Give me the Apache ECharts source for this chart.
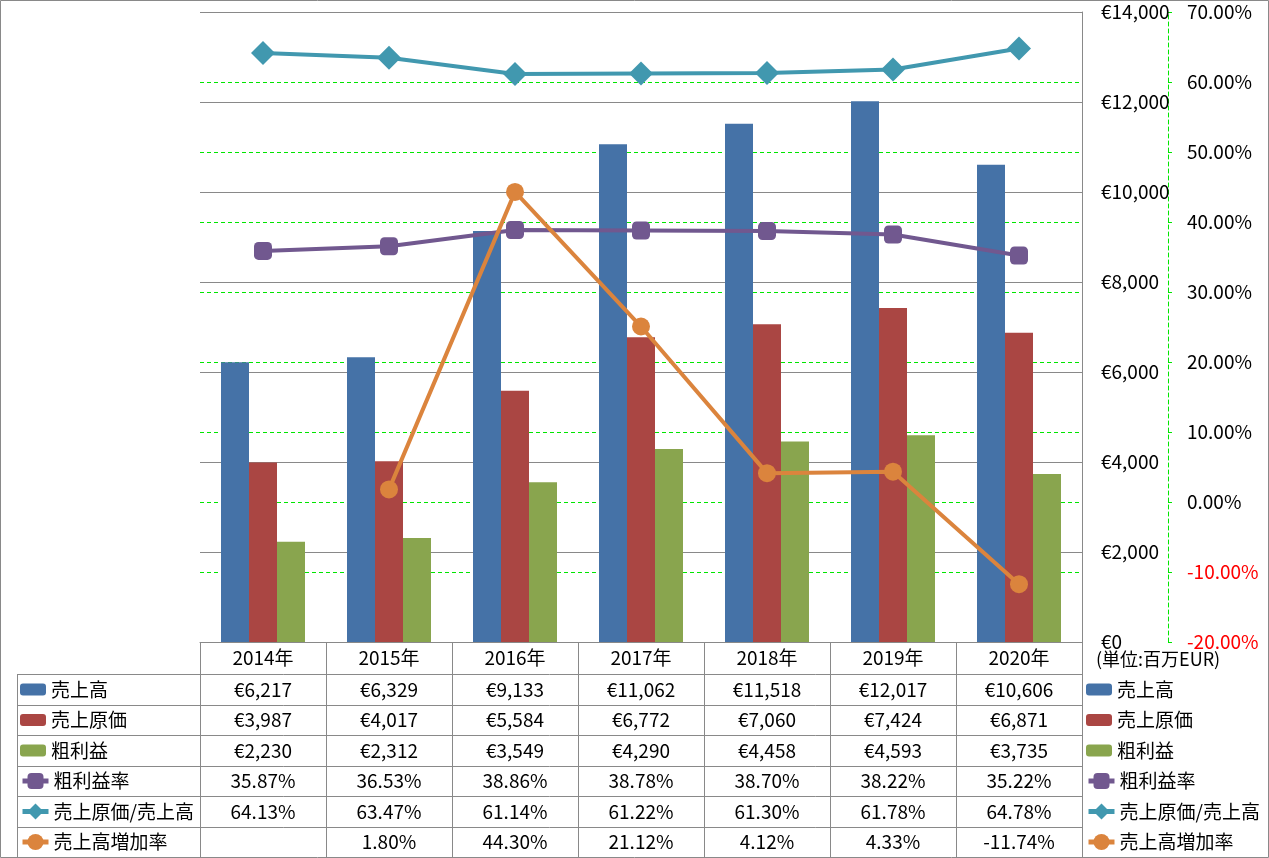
<!DOCTYPE html>
<html>
<head>
<meta charset="utf-8">
<script src="https://cdn.jsdelivr.net/npm/echarts@6/dist/echarts.min.js"></script>
<style>html,body{margin:0;padding:0;background:#fff}#c{width:1269px;height:858px}</style>
</head>
<body>
<div id="c"></div>
<script>
var years = ['2014年','2015年','2016年','2017年','2018年','2019年','2020年'];
var sales = [6217, 6329, 9133, 11062, 11518, 12017, 10606];
var cogs = [3987, 4017, 5584, 6772, 7060, 7424, 6871];
var gross = [2230, 2312, 3549, 4290, 4458, 4593, 3735];
var grossMargin = [35.87, 36.53, 38.86, 38.78, 38.70, 38.22, 35.22];
var cogsRatio = [64.13, 63.47, 61.14, 61.22, 61.30, 61.78, 64.78];
// growth rate as printed in the data table
var growthTable = [null, 1.80, 44.30, 21.12, 4.12, 4.33, -11.74];
// growth rate as plotted in the picture (2017 marker sits near 25%)
var growthPlot = [null, 1.80, 44.30, 25.07, 4.12, 4.33, -11.74];

var names = ['売上高','売上原価','粗利益','粗利益率','売上原価/売上高','売上高増加率'];
var colors = ['#4572A7','#AA4643','#89A54E','#71588F','#4198AF','#DB843D'];

var FONT = 'Noto Sans CJK JP';
var GRAY = '#898989';
var GREEN = '#00e600';

function eur(v){ return '€' + v.toLocaleString('en-US'); }
function pct(v){ return v == null ? '' : v.toFixed(2) + '%'; }

var rowCenters = [689.5, 720, 750.5, 781, 811.5, 842];
var rowData = [sales.map(eur), cogs.map(eur), gross.map(eur), grossMargin.map(pct), cogsRatio.map(pct), growthTable.map(pct)];
var axisBottom = 642;

var xAxes = [{
  type: 'category', data: years, gridIndex: 0, position: 'bottom',
  axisLine: {show: true, lineStyle: {color: GRAY, width: 1}},
  axisTick: {show: true, interval: 0, length: 216, lineStyle: {color: GRAY, width: 1}},
  axisLabel: {interval: 0, margin: 16, verticalAlign: 'middle', color: '#000', fontSize: 19, fontFamily: FONT},
  splitLine: {show: false}
}];
rowData.forEach(function(d, i){
  xAxes.push({
    type: 'category', data: d, gridIndex: 0, position: 'bottom',
    offset: rowCenters[i] - axisBottom,
    axisLine: {show: false}, axisTick: {show: false}, splitLine: {show: false},
    axisLabel: {interval: 0, margin: 0, verticalAlign: 'middle', color: '#000', fontSize: 19, fontFamily: FONT}
  });
});

var series = [];
[sales, cogs, gross].forEach(function(d, i){
  series.push({name: names[i], type: 'bar', data: d, xAxisIndex: 0, yAxisIndex: 0,
    barWidth: 28, barGap: '0%', itemStyle: {color: colors[i]}});
});
var lineDefs = [
  {d: grossMargin, sym: 'roundRect', size: 18},
  {d: cogsRatio, sym: 'diamond', size: 24},
  {d: growthPlot, sym: 'circle', size: 18}
];
lineDefs.forEach(function(l, k){
  var i = k + 3;
  series.push({name: names[i], type: 'line', data: l.d, xAxisIndex: 0, yAxisIndex: 1,
    symbol: l.sym, symbolSize: l.size, showAllSymbol: true,
    lineStyle: {color: colors[i], width: 4}, itemStyle: {color: colors[i]}, z: 3 + k});
});

function legend(left, top, data, ih, isLine){
  var items = data.map(function(n){
    var o = {name: n};
    if (isLine) { o.lineStyle = {width: 5}; }
    return o;
  });
  return {
    orient: 'vertical', left: left, top: top, padding: 0, itemGap: 0.5,
    itemWidth: 26, itemHeight: ih, selectedMode: false, data: items,
    textStyle: {fontSize: 19, fontFamily: FONT, color: '#000', lineHeight: 30}
  };
}

var hLines = [674, 705, 735, 766, 796, 827].map(function(y){
  return {type: 'line', shape: {x1: 17, y1: y + 0.5, x2: 1082, y2: y + 0.5}, style: {stroke: GRAY, lineWidth: 1}, silent: true};
});

var option = {
  backgroundColor: '#fff',
  animation: false,
  grid: {left: 200, right: 187, top: 12, bottom: 216, containLabel: false},
  xAxis: xAxes,
  yAxis: [{
    type: 'value', position: 'right', min: 0, max: 14000, interval: 2000, z: 1,
    axisLine: {show: true, lineStyle: {color: GRAY, width: 1}},
    axisTick: {show: false},
    axisLabel: {margin: 19, color: '#000', fontSize: 19, fontFamily: FONT, formatter: function(v){ return eur(v); }},
    splitLine: {show: true, lineStyle: {color: GRAY, width: 1}}
  }, {
    type: 'value', position: 'right', offset: 86, min: -20, max: 70, interval: 10,
    axisLine: {show: true, lineStyle: {color: GREEN, width: 1, type: [4, 3]}},
    axisTick: {show: true, length: 4, lineStyle: {color: GREEN, width: 1}},
    axisLabel: {margin: 19, fontSize: 19, fontFamily: FONT,
      formatter: function(v){ return v.toFixed(2) + '%'; },
      color: function(v){ return Number(v) < 0 ? '#ff0000' : '#000'; }},
    splitLine: {show: true, lineStyle: {color: GREEN, width: 1, type: [4, 3]}}
  }],
  legend: [
    legend(20, 674.5, names.slice(0, 3), 12, false),
    legend(20, 766, names.slice(3), 20, true),
    legend(1086, 674.5, names.slice(0, 3), 12, false),
    legend(1086, 766, names.slice(3), 20, true)
  ],
  series: series,
  graphic: [
    {type: 'rect', shape: {x: 0.5, y: 0.5, width: 1268, height: 857}, style: {fill: null, stroke: GRAY, lineWidth: 1}, silent: true, z: 100},
    {type: 'line', shape: {x1: 17.5, y1: 674, x2: 17.5, y2: 858}, style: {stroke: GRAY, lineWidth: 1}, silent: true},
    {type: 'text', left: 1096, top: 650, style: {text: '(単位:百万EUR)', fontSize: 18, fontFamily: FONT, fill: '#000'}, silent: true}
  ].concat(hLines)
};

var chart = echarts.init(document.getElementById('c'), null, {renderer: 'canvas'});
chart.setOption(option);
</script>
</body>
</html>
